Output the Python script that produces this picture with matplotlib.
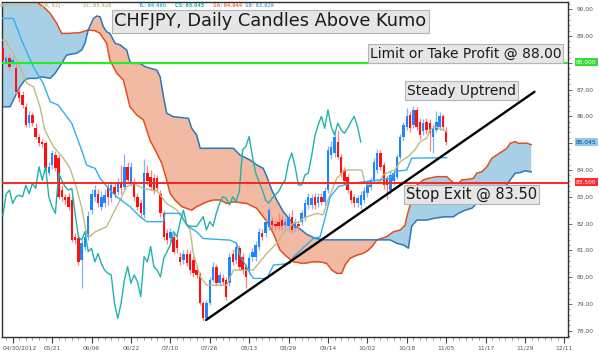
import numpy as np
import matplotlib
matplotlib.use("Agg")
import matplotlib.pyplot as plt
from matplotlib.ticker import MultipleLocator, FixedLocator, FuncFormatter

# ---------------- data ----------------
first_bar = -3
opens = [88.54, 88.04, 88.17, 87.98, 87.79, 86.92, 86.80, 86.36, 85.74, 86.05,
         85.55, 85.24, 85.05, 84.99, 83.90, 84.18, 84.56, 84.43, 83.25, 83.00,
         83.00, 82.88, 81.51, 81.45, 80.64, 81.14, 81.50, 82.50, 83.00, 83.12,
         82.63, 82.75, 83.37, 82.94, 83.37, 83.19, 83.56, 83.37, 84.12, 83.50,
         83.50, 83.00, 82.75, 82.32, 83.87, 83.75, 83.69, 83.69, 83.12, 82.38,
         81.63, 81.45, 81.51, 81.39, 80.76, 80.64, 80.88, 80.88, 80.64, 80.26,
         80.10, 79.02, 78.46, 79.02, 79.89, 80.39, 79.77, 79.95, 79.89, 79.77,
         80.88, 80.64, 81.07, 80.76, 80.39, 80.26, 80.76, 80.76, 81.14, 81.63,
         81.63, 81.88, 82.10, 82.00, 82.05,
         82.13, 81.95, 81.89, 82.26, 81.83, 82.00, 82.07, 82.20, 82.70, 82.70,
         83.00, 82.76, 83.00, 82.82, 83.26, 84.56, 84.63, 85.06, 84.50, 84.00,
         83.75, 83.20, 83.00, 82.76, 82.70, 82.88, 83.13, 83.38, 83.63, 84.00,
         84.63, 84.19, 83.69, 83.26, 83.57, 83.75, 84.50, 85.25, 85.62, 86.06,
         85.68, 86.24, 85.80, 85.44, 85.80, 85.75, 85.25, 85.50, 85.62, 86.00,
         85.44]
highs = [88.70, 88.30, 88.35, 88.25, 88.00, 87.05, 86.95, 86.50, 86.20, 86.15,
         85.75, 85.35, 85.15, 85.10, 84.30, 84.75, 84.70, 84.55, 83.45, 83.10,
         83.15, 83.00, 81.65, 81.60, 81.40, 81.70, 82.45, 83.30, 83.45, 83.30,
         83.20, 83.30, 83.55, 83.60, 83.55, 83.70, 84.20, 84.60, 84.30, 84.30,
         83.70, 83.15, 82.90, 84.40, 84.20, 84.00, 83.85, 83.80, 83.25, 82.50,
         81.80, 81.85, 81.70, 81.55, 80.95, 81.00, 81.05, 81.00, 80.80, 80.40,
         80.20, 79.10, 79.15, 80.00, 80.55, 80.50, 80.20, 80.10, 80.00, 80.90,
         81.05, 81.30, 81.20, 80.90, 80.50, 80.85, 81.10, 81.35, 81.85, 81.80,
         82.20, 82.60, 82.25, 82.15, 82.40,
         82.30, 82.20, 82.40, 82.50, 82.20, 82.10, 82.50, 82.90, 83.15, 83.10,
         83.15, 83.15, 83.15, 83.35, 84.90, 85.10, 85.50, 85.50, 84.60, 84.10,
         83.85, 83.30, 83.10, 83.05, 83.20, 83.35, 83.60, 83.75, 84.45, 84.80,
         84.75, 84.30, 83.80, 83.95, 84.00, 84.60, 85.35, 85.80, 86.30, 86.20,
         86.40, 86.35, 85.95, 85.90, 85.95, 85.90, 85.70, 86.20, 86.15, 86.10,
         85.60]
lows = [88.00, 87.95, 87.75, 87.90, 86.85, 86.55, 86.30, 85.60, 85.60, 85.65,
        85.15, 84.90, 84.85, 83.95, 83.80, 84.05, 83.95, 82.90, 82.85, 82.70,
        82.50, 81.30, 81.25, 80.45, 79.60, 81.00, 81.40, 82.35, 82.85, 82.60,
        82.50, 82.60, 82.70, 82.80, 82.95, 83.05, 83.10, 83.25, 83.50, 83.40,
        82.85, 82.50, 82.20, 82.20, 83.45, 83.25, 83.10, 83.20, 82.25, 81.40,
        81.25, 81.30, 80.85, 80.90, 80.45, 80.50, 80.40, 80.10, 80.00, 79.95,
        78.95, 78.35, 78.40, 78.95, 79.80, 79.65, 79.65, 79.70, 79.15, 79.65,
        80.45, 80.50, 80.25, 80.10, 79.60, 80.10, 80.60, 80.60, 81.00, 81.40,
        81.50, 81.75, 81.80, 81.75, 81.75,
        81.75, 81.80, 81.70, 81.65, 81.70, 81.75, 81.95, 82.10, 82.55, 82.55,
        82.55, 82.60, 82.70, 82.70, 83.15, 84.40, 84.50, 84.40, 83.75, 83.45,
        83.15, 82.75, 82.60, 82.60, 82.55, 82.75, 83.00, 83.25, 83.50, 83.90,
        84.00, 83.30, 82.90, 83.10, 83.45, 83.65, 84.40, 85.10, 85.50, 85.40,
        85.55, 85.50, 85.15, 85.30, 85.35, 84.70, 84.65, 85.40, 85.50, 85.50,
        84.95]
closes = [88.10, 88.17, 87.85, 88.10, 86.92, 86.67, 86.42, 85.68, 86.05, 85.74,
          85.24, 84.99, 84.97, 84.06, 84.12, 84.62, 84.06, 83.00, 83.00, 82.88,
          82.63, 81.39, 81.39, 80.57, 81.26, 81.51, 82.30, 83.10, 83.25, 82.75,
          83.00, 83.06, 83.00, 83.43, 83.12, 83.50, 83.31, 84.12, 83.62, 84.12,
          83.00, 82.63, 82.38, 83.87, 83.60, 83.37, 83.25, 83.31, 82.38, 81.51,
          81.39, 81.70, 80.95, 81.07, 80.57, 80.88, 80.51, 80.26, 80.14, 80.08,
          79.02, 78.46, 79.02, 79.89, 80.39, 79.77, 80.08, 79.83, 79.27, 80.76,
          80.57, 81.14, 80.39, 80.26, 80.01, 80.70, 80.95, 81.20, 81.70, 81.51,
          82.07, 82.50, 81.95, 81.90, 81.90,
          81.89, 82.07, 82.26, 81.76, 82.07, 81.90, 82.38, 82.76, 83.00, 82.94,
          82.70, 83.00, 82.82, 83.20, 84.75, 84.87, 85.25, 84.50, 83.88, 83.57,
          83.26, 82.88, 82.76, 82.95, 83.07, 83.20, 83.44, 83.63, 84.31, 84.63,
          84.13, 83.44, 83.44, 83.82, 83.88, 84.50, 85.25, 85.68, 86.00, 85.56,
          86.24, 85.62, 85.31, 85.75, 85.50, 85.37, 85.56, 85.80, 86.00, 85.62,
          85.045]

# Ichimoku lines (bar position, price)
tenkan_x = [-3.4, 0.2, 2.7, 6.3, 9.3, 11.4, 13.9, 18.0, 21.0, 22.5, 25.1, 26.6,
            29.6, 31.7, 35.7, 38.8, 40.8, 45.9, 46.4, 51.0, 53.0, 56.0, 58.0,
            66.2, 68.2, 69.2, 72.3, 73.3, 77.4, 79.4, 84.5, 85.5, 88.5, 91.6,
            93.6, 95.1, 96.7, 99.2, 102.7, 107.8, 111.9, 114.9, 116.5, 120.0,
            121.5, 132.2]
tenkan_y = [89.66, 89.66, 88.85, 87.85, 87.23, 86.55, 86.42, 85.74, 84.74, 84.18,
            84.06, 83.69, 83.25, 83.00, 82.63, 82.25, 82.07, 82.07, 82.38, 82.38,
            81.94, 81.69, 81.44, 81.38, 81.26, 80.82, 80.14, 79.95, 79.95, 80.45,
            80.51, 80.76, 81.10, 81.45, 81.50, 82.20, 83.00, 83.38, 83.50, 83.57,
            83.63, 83.69, 83.94, 84.00, 84.44, 84.46]

kijun_x = [-3.4, -2.35, 0.2, 2.2, 4.3, 6.3, 8.3, 9.8, 12.4, 15.4, 17.5, 19.5,
           21.0, 22.5, 23.5, 25.1, 28.6, 29.6, 32.7, 34.7, 36.7, 39.8, 43.9,
           46.9, 50.0, 52.0, 54.0, 55.0, 57.1, 59.1, 65.2, 67.2, 73.2, 77.4,
           80.4, 82.3, 85.4, 87.5, 88.4, 92.6, 94.5, 96.0, 98.7, 100.2, 101.2,
           106.3, 107.3, 108.2, 111.9, 112.8, 114.9, 116.4, 118.0, 120.4, 122.5,
           124.1, 126.1, 127.1, 128.6, 132.2]
kijun_y = [88.85, 88.85, 88.36, 87.86, 87.24, 87.11, 86.36, 85.49, 84.87, 84.45,
           84.05, 83.30, 82.60, 81.60, 81.51, 81.69, 81.88, 82.13, 82.88, 83.38,
           83.50, 83.31, 83.22, 82.75, 82.50, 82.13, 81.76, 80.89, 80.01, 79.70,
           79.70, 80.26, 80.26, 80.89, 81.26, 81.63, 82.00, 82.07, 82.20, 82.38,
           82.32, 82.88, 83.69, 83.88, 84.00, 84.00, 83.50, 83.44, 83.57, 83.82,
           83.94, 84.00, 84.31, 84.50, 84.75, 85.06, 85.19, 85.50, 85.62, 85.43]

span_a_x = [-3.9, 6.3, 9.3, 11.4, 13.4, 14.9, 16.9, 20.5, 23.0, 25.1, 26.6, 28.6,
            29.6, 31.7, 33.7, 35.7, 37.8, 39.8, 41.8, 43.9, 45.4, 46.9, 47.9,
            49.4, 51.5, 54.5, 56.0, 59.1, 61.1, 63.1, 65.2, 67.2, 71.3, 74.3,
            76.3, 77.4, 79.4, 81.4, 83.5, 85.5, 88.5, 91.6, 93.6, 95.6, 97.2,
            98.7, 100.2, 101.2, 102.7, 104.8, 106.8, 108.3, 109.4, 110.9, 113.9,
            115.9, 118.0, 119.5, 120.0, 121.5, 123.1, 125.1, 126.6, 129.1, 132.2,
            133.2, 134.2, 135.7, 136.8, 138.8, 140.3, 141.3, 142.9, 144.4, 145.9,
            147.4, 148.9, 150.5, 151.5, 153.0, 154.0, 156.6, 157.9]
span_a_y = [91.00, 90.35, 90.10, 89.85, 89.48, 89.10, 89.10, 89.13, 89.23, 89.20,
            89.10, 88.73, 88.10, 87.61, 87.36, 86.36, 86.05, 85.87, 85.12, 84.62,
            84.25, 83.62, 83.13, 82.88, 82.63, 82.50, 82.63, 82.81, 82.88, 82.88,
            82.75, 82.81, 82.75, 82.57, 82.25, 82.07, 81.63, 81.01, 80.76, 80.57,
            80.51, 80.57, 80.57, 80.51, 80.26, 80.14, 80.14, 80.45, 80.70, 80.82,
            80.89, 81.01, 81.14, 81.39, 81.51, 81.69, 81.76, 81.94, 82.25, 82.90,
            83.44, 83.63, 83.69, 83.75, 83.75, 83.63, 83.53, 83.50, 83.63, 83.65,
            83.69, 83.88, 83.94, 84.12, 84.44, 84.56, 84.68, 84.81, 85.00, 85.06,
            85.00, 85.00, 84.944]

span_b_x = [-3.4, -0.8, 0.7, 2.2, 3.7, 4.8, 7.3, 8.8, 11.4, 12.9, 14.9, 16.4,
            19.5, 21.0, 22.0, 23.0, 24.6, 25.6, 26.6, 27.6, 28.6, 29.6, 31.2,
            32.7, 34.7, 35.7, 36.7, 38.8, 40.3, 41.8, 43.9, 44.9, 45.9, 46.9,
            48.9, 53.5, 54.5, 56.0, 57.1, 67.2, 69.2, 72.3, 74.3, 76.3, 77.4,
            78.9, 80.4, 82.4, 84.5, 85.5, 87.5, 89.5, 92.1, 94.6, 114.9, 117.0,
            119.0, 120.5, 121.5, 123.1, 126.1, 128.1, 131.2, 134.2, 135.7, 137.8,
            139.8, 141.3, 142.3, 144.9, 146.4, 147.4, 149.4, 150.5, 151.5, 153.0,
            154.5, 156.0, 157.9]
span_b_y = [86.36, 86.36, 86.74, 87.11, 87.36, 87.42, 87.42, 87.48, 87.42, 87.61,
            87.98, 88.29, 88.36, 88.48, 88.73, 89.23, 89.66, 89.75, 89.72, 89.35,
            89.16, 89.10, 88.73, 88.67, 88.48, 88.04, 87.98, 87.98, 87.86, 87.80,
            87.73, 87.48, 86.74, 86.12, 85.99, 85.93, 85.56, 85.31, 84.81, 84.81,
            84.56, 84.37, 84.19, 84.06, 83.75, 83.25, 82.88, 82.44, 82.13, 81.95,
            81.80, 81.60, 81.45, 81.39, 81.39, 81.26, 81.20, 81.08, 81.90, 82.13,
            82.13, 82.19, 82.25, 82.25, 82.38, 82.50, 82.57, 82.75, 82.94, 82.94,
            83.19, 83.31, 83.38, 83.44, 83.63, 83.88, 83.90, 83.97, 83.929]

chikou_shift = 26
trend_x = [58.9, 158.9]
trend_y = [78.40, 86.92]
take_profit = 88.00
stop_exit = 83.50
last_close = 85.045

tick_bars = [0, 12, 24, 36, 48, 60, 72, 84, 96, 108, 120, 132, 144, 156, 168]
tick_labels = ['04/30/2012', '05/21', '06/06', '06/22', '07/10', '07/26', '08/13',
               '08/29', '09/14', '10/02', '10/18', '11/05', '11/17', '11/29', '12/11']

title = "CHFJPY, Daily Candles Above Kumo"
header = [("ICH(CHF/JPY, 9, 26, 52) -", "#c8be8c"), ("SL: 85.428", "#c8be8c"),
          ("TL: 84.460", "#3cb6ea"), ("CS: 85.045", "#1fb0a8"),
          ("SA: 84.944", "#f07a52"), ("SB: 83.929", "#6fa8d8")]

# ---------------- drawing ----------------
W, H = 599, 361
fig = plt.figure(figsize=(W / 100, H / 100), dpi=100)
fig.patch.set_facecolor("white")
ax = fig.add_axes([2 / W, 24 / H, 566 / W, 335 / H])
ax.set_xlim(-3.26, 169.1)
ax.set_ylim(77.763, 90.273)


def px(x, y):
    return x / W, 1 - y / H


o = np.array(opens); h = np.array(highs); l = np.array(lows); c = np.array(closes)
bars = np.arange(first_bar, first_bar + len(c))

# cloud
grid = np.linspace(min(span_a_x[0], span_b_x[0]), 157.9, 4000)
sa = np.interp(grid, span_a_x, span_a_y)
sb = np.interp(grid, span_b_x, span_b_y)
ax.fill_between(grid, sa, sb, where=sa >= sb, interpolate=True,
                color="#a7cfe6", lw=0, zorder=1)
ax.fill_between(grid, sa, sb, where=sa < sb, interpolate=True,
                color="#f2b9a3", lw=0, zorder=1)
ax.plot(span_a_x, span_a_y, color="#e2501e", lw=1.1, zorder=2)
ax.plot(span_b_x, span_b_y, color="#2a78b8", lw=1.1, zorder=2)

# candles
up = c >= o
wick_cols = np.where(up, "#7fb4ff", "#ff8080")
body_cols = np.where(up, "#1e86ff", "#ff1010")
ax.vlines(bars, l, h, colors=wick_cols, lw=0.9, zorder=3)
ax.bar(bars, np.abs(c - o), bottom=np.minimum(o, c), width=0.74,
       color=body_cols, lw=0, zorder=3)

# tenkan / kijun / chikou
ax.plot(kijun_x, kijun_y, color="#c4b882", lw=1.0, zorder=4)
ax.plot(tenkan_x, tenkan_y, color="#2eb2ec", lw=1.0, zorder=4)
ax.plot(bars[chikou_shift:] - chikou_shift, c[chikou_shift:],
        color="#1fb3ab", lw=1.0, zorder=4)

# horizontal levels and trend line
ax.axhline(take_profit, color="#22ee22", lw=1.5, zorder=5)
ax.axhline(stop_exit, color="#ff2222", lw=1.4, zorder=5)
ax.plot(trend_x, trend_y, color="black", lw=1.7, zorder=6, solid_capstyle="round")

# axes styling
for s in ax.spines.values():
    s.set_color("#303030")
    s.set_linewidth(1.0)
ax.yaxis.tick_right()
ax.yaxis.set_major_locator(MultipleLocator(1))
ax.yaxis.set_minor_locator(MultipleLocator(0.2))
hidden_y = {round(take_profit), round(last_close)}
ax.yaxis.set_major_formatter(
    FuncFormatter(lambda v, p: "" if round(v) in hidden_y else f"{v:.2f}"))
ax.xaxis.set_major_locator(FixedLocator(tick_bars))
ax.set_xticklabels([""] + tick_labels[1:])
ax.xaxis.set_minor_locator(MultipleLocator(2))
ax.tick_params(axis="y", which="major", length=3, width=0.6, pad=3.5,
               labelsize=4.3, labelcolor="#555555", color="#555555")
ax.tick_params(axis="y", which="minor", length=1.5, width=0.5, color="#777777")
ax.tick_params(axis="x", which="major", length=4, width=0.8, pad=2.0,
               labelsize=4.3, labelcolor="#555555", color="#444444")
ax.tick_params(axis="x", which="minor", length=1.8, width=0.5, color="#777777")
fig.text(*px(2.5, 348.0), tick_labels[0], fontsize=4.3, color="#555555",
         ha="left", va="center")

# text boxes
box = dict(boxstyle="square,pad=0.15", fc="#e6e6e6", ec="#b4b4b4", lw=0.8)
fig.text(*px(270.5, 21.5), title, fontsize=12.8, color="#1a1a1a",
         ha="center", va="center", bbox=box, zorder=10)
fig.text(*px(465.5, 53.5), "Limit or Take Profit @ 88.00", fontsize=10,
         color="#1a1a1a", ha="center", va="center", bbox=box, zorder=10)
fig.text(*px(461.5, 90.5), "Steady Uptrend", fontsize=10, color="#1a1a1a",
         ha="center", va="center", bbox=box, zorder=10)
fig.text(*px(471.7, 194.5), "Stop Exit @ 83.50", fontsize=10.5, color="#1a1a1a",
         ha="center", va="center", bbox=box, zorder=10)

# header line
hx = [0.5, 83, 138, 175, 213, 245]
for (txt, col), x0 in zip(header, hx):
    fig.text(*px(x0, 5.2), txt, fontsize=3.4, color=col, ha="left",
             va="center", fontweight="bold", zorder=10)

# right value boxes
def value_box(val, y, fc, tc):
    fig.text(*px(576, y), f"{val:.3f}", fontsize=4.2, color=tc, ha="left",
             va="center", zorder=11,
             bbox=dict(boxstyle="square,pad=0.25", fc=fc, ec="none"))

value_box(take_profit, 62.0, "#33dd33", "#ffffff")
value_box(last_close, 142.3, "#8ccaee", "#1a3c6e")
value_box(stop_exit, 182.3, "#ff2a2a", "#ffffff")

fig.savefig("out.png", dpi=100)
